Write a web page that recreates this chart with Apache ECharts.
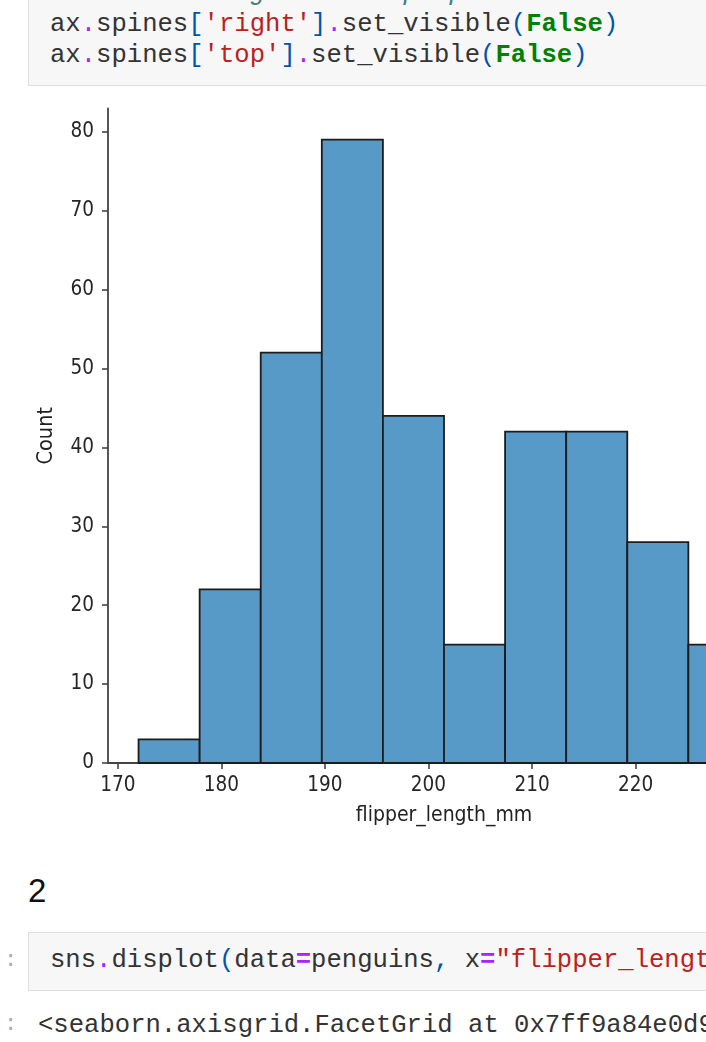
<!DOCTYPE html>
<html>
<head>
<meta charset="utf-8">
<script src="https://cdn.jsdelivr.net/npm/echarts@6/dist/echarts.min.js"></script>
<style>
html, body { margin:0; padding:0; width:706px; height:1042px; overflow:hidden; background:#fff; }
.cell { position:absolute; left:28px; width:700px; background:#f7f7f7; border:1px solid #dedede; box-sizing:border-box; }
.code { position:absolute; font-family:"Liberation Mono", "DejaVu Sans Mono", monospace; font-size:25.6px; line-height:32px; white-space:pre; color:#333; }
.pr { position:absolute; left:4px; font-family:"Liberation Mono", monospace; font-size:22px; color:#aaa; }
.op { color:#aa22ff; }
.br { color:#0055aa; }
.st { color:#ba2121; }
.kw { color:#008000; font-weight:bold; }
.cm { color:#408080; font-style:italic; }
.eq { color:#aa22ff; font-weight:bold; }
#heading { position:absolute; left:28px; top:872px; font-family:"Liberation Sans", Arial, sans-serif; font-size:33px; color:#111; }
#chart { position:absolute; left:0; top:90px; width:900px; height:760px; }
</style>
</head>
<body>
<div class="cell" style="top:-40px;height:126px;"></div>
<div class="code" style="left:50px;top:-22px;"><span class="cm"># Hide the right and top spines</span></div>
<div class="code" style="left:50px;top:9px;">ax<span class="op">.</span>spines<span class="br">[</span><span class="st">'right'</span><span class="br">]</span><span class="op">.</span>set_visible<span class="br">(</span><span class="kw">False</span><span class="br">)</span></div>
<div class="code" style="left:50px;top:40px;">ax<span class="op">.</span>spines<span class="br">[</span><span class="st">'top'</span><span class="br">]</span><span class="op">.</span>set_visible<span class="br">(</span><span class="kw">False</span><span class="br">)</span></div>

<div id="chart"></div>

<div id="heading">2</div>

<div class="pr" style="top:948px;">:</div>
<div class="cell" style="top:932px;height:59px;"></div>
<div class="code" style="left:50px;top:945px;">sns<span class="op">.</span>displot<span class="br">(</span>data<span class="eq">=</span>penguins<span class="br">,</span> x<span class="eq">=</span><span class="st">"flipper_length_mm"</span><span class="br">)</span></div>

<div class="pr" style="top:1012px;">:</div>
<div class="code" style="left:38px;top:1010px;">&lt;seaborn.axisgrid.FacetGrid at 0x7ff9a84e0d90&gt;</div>

<script>
// 直方图数据
var binEdges = [172, 177.9, 183.8, 189.7, 195.6, 201.5, 207.4, 213.3, 219.2, 225.1, 231];
var counts = [3, 22, 52, 79, 44, 15, 42, 42, 28, 15];
var xTicks = [170, 180, 190, 200, 210, 220, 230];
var yTicks = [0, 10, 20, 30, 40, 50, 60, 70, 80];

var histData = [];
for (var i = 0; i < counts.length; i++) {
	histData.push([binEdges[i], binEdges[i + 1], counts[i]]);
}

var myChart = echarts.init(document.getElementById('chart'));
var labelFont = '"DejaVu Sans Condensed", "DejaVu Sans"';
var option = {
	animation: false,
	grid: {
		left: 108,
		top: 18.5,
		width: 672,
		height: 654.5,
		outerBoundsMode: 'none'
	},
	xAxis: {
		type: 'value',
		min: 169.05,
		max: 233.95,
		name: 'flipper_length_mm',
		nameLocation: 'middle',
		nameGap: 42,
		nameTextStyle: { fontFamily: labelFont, fontSize: 21, color: '#222' },
		splitLine: { show: false },
		axisLine: { lineStyle: { color: '#444', width: 1.8 } },
		axisTick: { customValues: xTicks, length: 6, lineStyle: { color: '#444', width: 1.6 } },
		axisLabel: { customValues: xTicks, margin: 12, fontFamily: labelFont, fontSize: 20.5, color: '#262626' }
	},
	yAxis: {
		type: 'value',
		min: 0,
		max: 82.95,
		name: 'Count',
		nameLocation: 'middle',
		nameGap: 51,
		nameTextStyle: { fontFamily: labelFont, fontSize: 21.5, color: '#222' },
		splitLine: { show: false },
		axisLine: { show: true, lineStyle: { color: '#444', width: 1.8 } },
		axisTick: { show: true, customValues: yTicks, length: 6, lineStyle: { color: '#444', width: 1.6 } },
		axisLabel: { customValues: yTicks, margin: 14, fontFamily: labelFont, fontSize: 20.5, color: '#262626' }
	},
	series: [{
		type: 'custom',
		data: histData,
		encode: { x: [0, 1], y: 2 },
		clip: false,
		renderItem: function (params, api) {
			var p0 = api.coord([api.value(0), api.value(2)]);
			var p1 = api.coord([api.value(1), 0]);
			return {
				type: 'rect',
				shape: { x: p0[0], y: p0[1], width: p1[0] - p0[0], height: p1[1] - p0[1] },
				style: { fill: '#5799c7', stroke: '#1c1c1c', lineWidth: 1.8 }
			};
		}
	}]
};
myChart.setOption(option);
</script>
</body>
</html>
